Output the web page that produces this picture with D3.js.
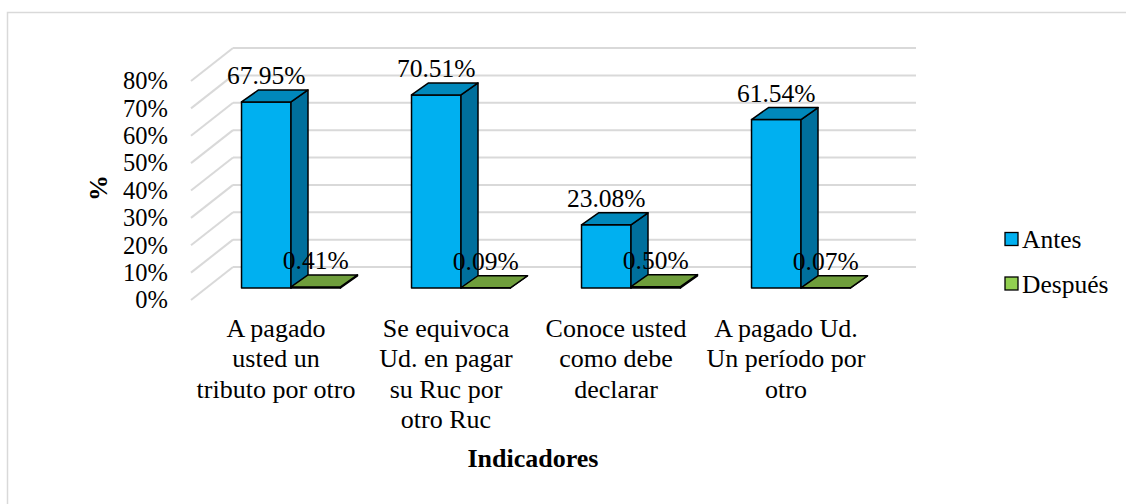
<!DOCTYPE html>
<html>
<head>
<meta charset="utf-8">
<script src="https://cdn.jsdelivr.net/npm/d3@7"></script>
</head>
<body style="margin:0">
<svg id="chart" width="1126" height="504"></svg>
<script>
// Categories (each wrapped into lines) and the two series
const categories = [
  "A pagado usted un tributo por otro",
  "Se equivoca Ud. en pagar su Ruc por otro Ruc",
  "Conoce usted como debe declarar",
  "A pagado Ud. Un período por otro"
];
const categoryLines = [
  ["A pagado", "usted un", "tributo por otro"],
  ["Se equivoca", "Ud. en pagar", "su Ruc por", "otro Ruc"],
  ["Conoce usted", "como debe", "declarar"],
  ["A pagado Ud.", "Un período por", "otro"]
];
const seriesNames = ["Antes", "Después"];
const antes = [67.95, 70.51, 23.08, 61.54];
const despues = [0.41, 0.09, 0.50, 0.07];
const yTicks = [0, 10, 20, 30, 40, 50, 60, 70, 80];

const seriesValues = [antes, despues];
const palette = {
  "Antes":   { front: "#00b0f0", top: "#0088bb", side: "#006f9c" },
  "Después": { front: "#92d050", top: "#6f9e3c", side: "#5a8530" }
};
const FONT = "Liberation Serif";

const svg = d3.select("#chart");

// Helper: a text element in the serif face
function label(parent, size, str) {
  return parent.append("text")
    .style("font-family", FONT)
    .attr("font-size", size)
    .text(str);
}

// Outer chart frame
svg.append("rect")
  .attr("x", 7.5).attr("y", 12.5).attr("width", 1130).attr("height", 510)
  .attr("fill", "none").attr("stroke", "#d9d9d9").attr("stroke-width", 1.5);

// Plane where the bar fronts stand, plus the 3D offsets
const x = d3.scaleBand().domain(categories).range([206, 886])
  .paddingInner(0.418).paddingOuter(0.209);
const xs = d3.scaleBand().domain(seriesNames).range([0, x.bandwidth()]);
const y = d3.scaleLinear().domain([0, 80]).range([288, 69]);

const wall = { dx: 27, dy: -21 };   // back wall relative to bar plane
const front = { dx: -15, dy: 12 };  // front edge of floor relative to bar plane
const depth = { dx: 17, dy: -12 };  // bar depth

// Gridlines: back wall lines and side wall diagonals
const grid = svg.append("g").attr("stroke", "#d9d9d9").attr("stroke-width", 2).attr("fill", "none");
const [r0, r1] = x.range();
yTicks.forEach(t => {
  const yy = y(t);
  grid.append("line")
    .attr("x1", r0 + wall.dx).attr("y1", yy + wall.dy)
    .attr("x2", r1 + wall.dx + 3).attr("y2", yy + wall.dy);
  grid.append("line")
    .attr("x1", r0 + front.dx).attr("y1", yy + front.dy)
    .attr("x2", r0 + wall.dx).attr("y2", yy + wall.dy);
});

// Y tick labels along the front edge
const tickG = svg.append("g").attr("text-anchor", "end");
yTicks.forEach(t => {
  label(tickG, 24.5, t + "%")
    .attr("x", 168).attr("y", y(t) + front.dy).attr("dy", "0.34em");
});

// Bars
const bars = svg.append("g")
  .attr("stroke", "#000").attr("stroke-width", 1.5).attr("stroke-linejoin", "round");

categories.forEach((c, i) => {
  seriesNames.forEach((s, k) => {
    const v = seriesValues[k][i];
    const x0 = x(c) + xs(s), x1 = x0 + xs.bandwidth();
    const yt = y(v), yb = y(0);
    const col = palette[s];
    const g = bars.append("g");
    // front face
    g.append("path")
      .attr("d", `M${x0},${yb}L${x0},${yt}L${x1},${yt}L${x1},${yb}Z`)
      .attr("fill", col.front);
    // side face
    g.append("path")
      .attr("d", `M${x1},${yb}L${x1},${yt}L${x1 + depth.dx},${yt + depth.dy}L${x1 + depth.dx},${yb + depth.dy}Z`)
      .attr("fill", col.side);
    // top face
    g.append("path")
      .attr("d", `M${x0},${yt}L${x0 + depth.dx},${yt + depth.dy}L${x1 + depth.dx},${yt + depth.dy}L${x1},${yt}Z`)
      .attr("fill", col.top);
  });
});

// Value labels above each bar
const labels = svg.append("g").attr("text-anchor", "middle");
categories.forEach((c, i) => {
  seriesNames.forEach((s, k) => {
    const v = seriesValues[k][i];
    label(labels, 25.5, v.toFixed(2) + "%")
      .attr("x", x(c) + xs(s) + xs.bandwidth() / 2)
      .attr("y", y(v) + depth.dy - 6);
  });
});

// Category labels along the front edge, one text per line
const catG = svg.append("g").attr("text-anchor", "middle");
categories.forEach((c, i) => {
  const cx = x(c) + x.bandwidth() / 2 + front.dx;
  categoryLines[i].forEach((line, j) => {
    label(catG, 26, line).attr("x", cx).attr("y", 337 + j * 30.3);
  });
});

// Axis titles
label(svg, 26, "Indicadores")
  .attr("x", 533).attr("y", 467)
  .attr("text-anchor", "middle").attr("font-weight", "bold");
label(svg, 26, "%")
  .attr("transform", "translate(107,188) rotate(-90)")
  .attr("text-anchor", "middle").attr("font-weight", "bold");

// Legend
const legend = svg.append("g");
seriesNames.forEach((s, k) => {
  const ly = 248 + k * 44.5;
  legend.append("rect")
    .attr("x", 1005).attr("y", ly - 15.5).attr("width", 13).attr("height", 13)
    .attr("fill", palette[s].front).attr("stroke", "#000").attr("stroke-width", 1.3);
  label(legend, 25.5, s).attr("x", 1022).attr("y", ly);
});
</script>
</body>
</html>
